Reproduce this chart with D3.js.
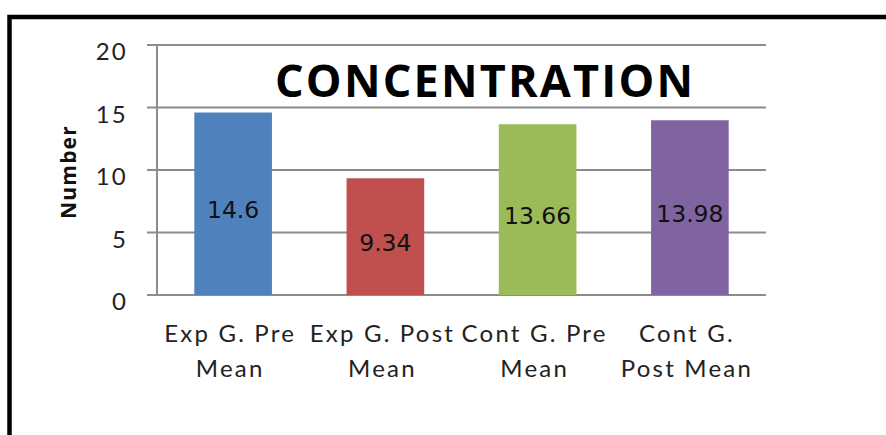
<!DOCTYPE html>
<html>
<head>
<meta charset="utf-8">
<script src="https://cdn.jsdelivr.net/npm/d3@7/dist/d3.min.js"></script>
<style>
  html, body { margin: 0; padding: 0; background: #fff; }
  svg { display: block; }
  .tick-label, .cat-label { font-family: Lato, "Open Sans", sans-serif; font-size: 24px; fill: #222; letter-spacing: 2.2px; }
  .value-label { font-family: "DejaVu Sans", Verdana, sans-serif; font-size: 23.5px; fill: #111; }
  .y-title { font-family: "Open Sans", sans-serif; font-weight: bold; font-size: 21px; fill: #111; letter-spacing: 1.2px; }
  .chart-title { font-family: "Open Sans", sans-serif; font-weight: bold; font-size: 45px; fill: #000; }
</style>
</head>
<body>
<svg id="chart" width="886" height="435"></svg>
<script>
// Group means for the concentration score
const categories = ["Exp G. Pre Mean", "Exp G. Post Mean", "Cont G. Pre Mean", "Cont G. Post Mean"];
const categoryLines = [["Exp G. Pre", "Mean"], ["Exp G. Post", "Mean"], ["Cont G. Pre", "Mean"], ["Cont G.", "Post Mean"]];
const values = [14.6, 9.34, 13.66, 13.98];
const valueLabels = ["14.6", "9.34", "13.66", "13.98"];
const barColors = ["#4F81BD", "#C0504D", "#9BBB59", "#8064A2"];
const yTicks = [0, 5, 10, 15, 20];
const chartTitle = "CONCENTRATION";
const yAxisTitle = "Number";

const svg = d3.select("#chart");

// Frame: heavy rule along the top and down the left side
svg.append("path")
  .attr("d", "M9.5,435 L9.5,17 L886,17")
  .attr("fill", "none")
  .attr("stroke", "#000")
  .attr("stroke-width", 4.5);

const plot = { left: 157, right: 766, top: 45, bottom: 295 };

const x = d3.scaleBand()
  .domain(categories)
  .range([plot.left, plot.right])
  .paddingInner(0.49)
  .paddingOuter(0.245);

const y = d3.scaleLinear()
  .domain([0, 20])
  .range([plot.bottom, plot.top]);

// Horizontal gridlines with short ticks left of the axis
svg.append("g").selectAll("line")
  .data(yTicks)
  .join("line")
  .attr("x1", plot.left - 10)
  .attr("x2", plot.right)
  .attr("y1", d => y(d))
  .attr("y2", d => y(d))
  .attr("stroke", "#8c8c8c")
  .attr("stroke-width", 2);

// Vertical axis line
svg.append("line")
  .attr("x1", plot.left).attr("x2", plot.left)
  .attr("y1", y(20)).attr("y2", y(0))
  .attr("stroke", "#8c8c8c")
  .attr("stroke-width", 2);

// Tick labels
svg.append("g").selectAll("text")
  .data(yTicks)
  .join("text")
  .attr("class", "tick-label")
  .attr("x", plot.left - 29)
  .attr("y", d => y(d) + 15)
  .attr("text-anchor", "end")
  .text(d => d);

// Bars
svg.append("g").selectAll("rect")
  .data(values)
  .join("rect")
  .attr("x", (d, i) => x(categories[i]))
  .attr("width", x.bandwidth())
  .attr("y", d => y(d))
  .attr("height", d => y(0) - y(d))
  .attr("fill", (d, i) => barColors[i]);

// Value labels centred inside each bar
svg.append("g").selectAll("text")
  .data(values)
  .join("text")
  .attr("class", "value-label")
  .attr("x", (d, i) => x(categories[i]) + x.bandwidth() / 2)
  .attr("y", d => (y(d) + y(0)) / 2 + 14)
  .attr("text-anchor", "middle")
  .text((d, i) => valueLabels[i]);

// Category labels on two lines
const cat = svg.append("g").selectAll("text")
  .data(categories)
  .join("text")
  .attr("class", "cat-label")
  .attr("text-anchor", "middle");
cat.each(function (d, i) {
  const cx = x(d) + x.bandwidth() / 2 - 3;
  d3.select(this).selectAll("tspan")
    .data(categoryLines[i])
    .join("tspan")
    .attr("x", cx)
    .attr("y", (t, j) => 342 + j * 35)
    .text(t => t);
});

// Axis title
svg.append("text")
  .attr("class", "y-title")
  .attr("transform", "translate(76,172) rotate(-90)")
  .attr("text-anchor", "middle")
  .text(yAxisTitle);

// Chart title
svg.append("text")
  .attr("class", "chart-title")
  .attr("x", 484)
  .attr("y", 97)
  .attr("text-anchor", "middle")
  .attr("textLength", 418)
  .attr("lengthAdjust", "spacing")
  .text(chartTitle);
</script>
</body>
</html>
